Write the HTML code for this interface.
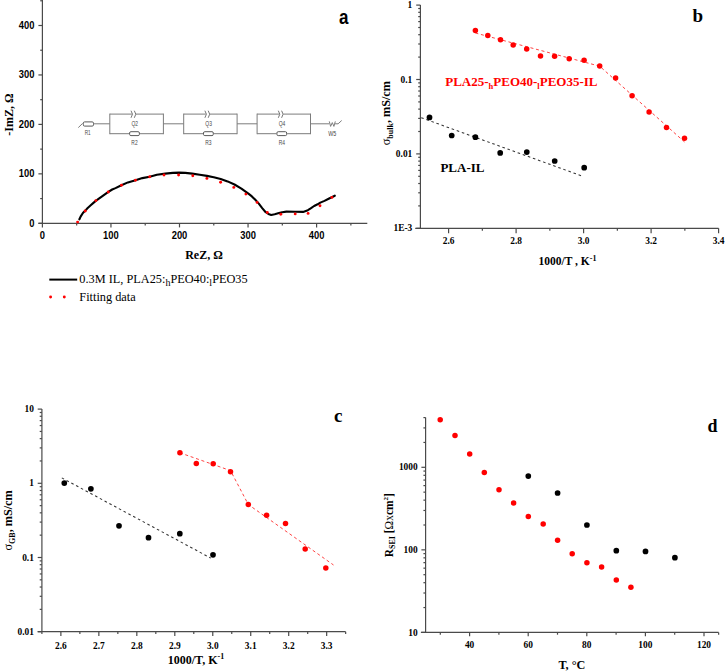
<!DOCTYPE html>
<html><head><meta charset="utf-8"><style>
html,body{margin:0;padding:0;background:#fff;}
body{width:725px;height:671px;overflow:hidden;font-family:"Liberation Serif", serif;}
svg{display:block;}
</style></head><body>
<svg width="725" height="671" viewBox="0 0 725 671" shape-rendering="geometricPrecision">
<rect x="0" y="0" width="725" height="671" fill="#fff"/>
<line x1="42.40" y1="-1.00" x2="42.40" y2="223.30" stroke="#4a4a4a" stroke-width="1.2" />
<line x1="38.40" y1="223.30" x2="367.30" y2="223.30" stroke="#4a4a4a" stroke-width="1.2" />
<line x1="38.40" y1="223.30" x2="42.40" y2="223.30" stroke="#4a4a4a" stroke-width="1.2" />
<line x1="40.20" y1="198.58" x2="42.40" y2="198.58" stroke="#4a4a4a" stroke-width="1.2" />
<line x1="38.40" y1="173.85" x2="42.40" y2="173.85" stroke="#4a4a4a" stroke-width="1.2" />
<line x1="40.20" y1="149.12" x2="42.40" y2="149.12" stroke="#4a4a4a" stroke-width="1.2" />
<line x1="38.40" y1="124.40" x2="42.40" y2="124.40" stroke="#4a4a4a" stroke-width="1.2" />
<line x1="40.20" y1="99.68" x2="42.40" y2="99.68" stroke="#4a4a4a" stroke-width="1.2" />
<line x1="38.40" y1="74.95" x2="42.40" y2="74.95" stroke="#4a4a4a" stroke-width="1.2" />
<line x1="40.20" y1="50.23" x2="42.40" y2="50.23" stroke="#4a4a4a" stroke-width="1.2" />
<line x1="38.40" y1="25.50" x2="42.40" y2="25.50" stroke="#4a4a4a" stroke-width="1.2" />
<line x1="40.20" y1="0.78" x2="42.40" y2="0.78" stroke="#4a4a4a" stroke-width="1.2" />
<line x1="42.40" y1="223.30" x2="42.40" y2="227.40" stroke="#4a4a4a" stroke-width="1.2" />
<line x1="76.67" y1="223.30" x2="76.67" y2="225.60" stroke="#4a4a4a" stroke-width="1.2" />
<line x1="110.95" y1="223.30" x2="110.95" y2="227.40" stroke="#4a4a4a" stroke-width="1.2" />
<line x1="145.22" y1="223.30" x2="145.22" y2="225.60" stroke="#4a4a4a" stroke-width="1.2" />
<line x1="179.50" y1="223.30" x2="179.50" y2="227.40" stroke="#4a4a4a" stroke-width="1.2" />
<line x1="213.78" y1="223.30" x2="213.78" y2="225.60" stroke="#4a4a4a" stroke-width="1.2" />
<line x1="248.05" y1="223.30" x2="248.05" y2="227.40" stroke="#4a4a4a" stroke-width="1.2" />
<line x1="282.32" y1="223.30" x2="282.32" y2="225.60" stroke="#4a4a4a" stroke-width="1.2" />
<line x1="316.60" y1="223.30" x2="316.60" y2="227.40" stroke="#4a4a4a" stroke-width="1.2" />
<line x1="350.88" y1="223.30" x2="350.88" y2="225.60" stroke="#4a4a4a" stroke-width="1.2" />
<text transform="translate(34.40,226.60) scale(1.0,1.12)" x="0" y="0" font-family='"Liberation Sans", sans-serif' font-size="9.4" font-weight="bold" text-anchor="end" fill="#000">0</text>
<text transform="translate(42.40,239.20) scale(1.0,1.12)" x="0" y="0" font-family='"Liberation Sans", sans-serif' font-size="9.4" font-weight="bold" text-anchor="middle" fill="#000">0</text>
<text transform="translate(34.40,177.15) scale(1.0,1.12)" x="0" y="0" font-family='"Liberation Sans", sans-serif' font-size="9.4" font-weight="bold" text-anchor="end" fill="#000">100</text>
<text transform="translate(110.95,239.20) scale(1.0,1.12)" x="0" y="0" font-family='"Liberation Sans", sans-serif' font-size="9.4" font-weight="bold" text-anchor="middle" fill="#000">100</text>
<text transform="translate(34.40,127.70) scale(1.0,1.12)" x="0" y="0" font-family='"Liberation Sans", sans-serif' font-size="9.4" font-weight="bold" text-anchor="end" fill="#000">200</text>
<text transform="translate(179.50,239.20) scale(1.0,1.12)" x="0" y="0" font-family='"Liberation Sans", sans-serif' font-size="9.4" font-weight="bold" text-anchor="middle" fill="#000">200</text>
<text transform="translate(34.40,78.25) scale(1.0,1.12)" x="0" y="0" font-family='"Liberation Sans", sans-serif' font-size="9.4" font-weight="bold" text-anchor="end" fill="#000">300</text>
<text transform="translate(248.05,239.20) scale(1.0,1.12)" x="0" y="0" font-family='"Liberation Sans", sans-serif' font-size="9.4" font-weight="bold" text-anchor="middle" fill="#000">300</text>
<text transform="translate(34.40,28.80) scale(1.0,1.12)" x="0" y="0" font-family='"Liberation Sans", sans-serif' font-size="9.4" font-weight="bold" text-anchor="end" fill="#000">400</text>
<text transform="translate(316.60,239.20) scale(1.0,1.12)" x="0" y="0" font-family='"Liberation Sans", sans-serif' font-size="9.4" font-weight="bold" text-anchor="middle" fill="#000">400</text>
<text x="204.00" y="259.20" font-family='"Liberation Serif", serif' font-size="12" font-weight="bold" text-anchor="middle" fill="#000" >ReZ, &#937;</text>
<text transform="translate(12.6,114.5) rotate(-90)" x="0" y="0" font-family='"Liberation Serif", serif' font-size="12" font-weight="bold" text-anchor="middle" fill="#000">-ImZ, &#937;</text>
<text transform="translate(338.90,24.20) scale(1.0,1.22)" x="0" y="0" font-family='"Liberation Sans", sans-serif' font-size="17" font-weight="bold" text-anchor="start" fill="#000">a</text>
<polyline points="79.40,219.30 80.60,216.60 82.90,213.00 85.30,210.60 87.70,208.00 90.70,205.30 93.70,202.60 96.10,200.60 99.60,198.10 103.80,195.10 108.00,192.20 112.20,189.50 115.50,188.10 121.40,185.20 127.90,182.40 135.50,180.20 142.40,178.10 149.70,176.70 156.90,174.70 165.30,173.60 172.90,172.90 179.10,172.60 185.30,172.90 192.20,173.60 199.80,174.70 206.90,175.90 213.80,177.20 220.70,179.00 227.60,181.40 234.50,184.50 241.40,188.60 248.40,193.60 251.90,196.40 255.30,199.80 258.80,203.60 262.20,208.10 265.70,212.20 268.40,214.00 271.20,215.00 274.70,214.30 278.10,213.30 282.20,212.20 286.40,211.60 295.00,211.70 303.10,211.90 307.90,210.20 310.70,208.40 314.10,206.00 317.60,204.30 320.30,202.60 324.50,200.90 328.60,198.80 334.80,195.70" fill="none" stroke="#000" stroke-width="2.1" stroke-linecap="round" stroke-linejoin="round"/>
<circle cx="77.60" cy="222.10" r="1.45" fill="#ff0000"/>
<circle cx="85.30" cy="211.00" r="1.45" fill="#ff0000"/>
<circle cx="95.90" cy="200.60" r="1.45" fill="#ff0000"/>
<circle cx="108.30" cy="192.00" r="1.45" fill="#ff0000"/>
<circle cx="121.50" cy="185.20" r="1.45" fill="#ff0000"/>
<circle cx="135.50" cy="180.20" r="1.45" fill="#ff0000"/>
<circle cx="149.70" cy="176.80" r="1.45" fill="#ff0000"/>
<circle cx="164.00" cy="175.00" r="1.45" fill="#ff0000"/>
<circle cx="178.60" cy="175.00" r="1.45" fill="#ff0000"/>
<circle cx="192.80" cy="175.70" r="1.45" fill="#ff0000"/>
<circle cx="206.90" cy="178.40" r="1.45" fill="#ff0000"/>
<circle cx="220.60" cy="182.30" r="1.45" fill="#ff0000"/>
<circle cx="233.80" cy="187.40" r="1.45" fill="#ff0000"/>
<circle cx="245.90" cy="194.10" r="1.45" fill="#ff0000"/>
<circle cx="257.10" cy="202.40" r="1.45" fill="#ff0000"/>
<circle cx="267.30" cy="212.50" r="1.45" fill="#ff0000"/>
<circle cx="280.80" cy="214.20" r="1.45" fill="#ff0000"/>
<circle cx="295.20" cy="213.90" r="1.45" fill="#ff0000"/>
<circle cx="308.10" cy="213.40" r="1.45" fill="#ff0000"/>
<circle cx="320.00" cy="205.80" r="1.45" fill="#ff0000"/>
<circle cx="331.90" cy="197.40" r="1.45" fill="#ff0000"/>
<line x1="78.30" y1="127.60" x2="82.60" y2="123.40" stroke="#7c7c7c" stroke-width="1.0" />
<rect x="83.3" y="121.9" width="10.2" height="4.2" rx="1.3" fill="none" stroke="#5a5a5a" stroke-width="1.0"/>
<text x="87.70" y="135.30" font-family='"Liberation Sans", sans-serif' font-size="6.8" fill="#484848" text-anchor="middle" textLength="5.9" lengthAdjust="spacingAndGlyphs">R1</text>
<line x1="93.50" y1="123.80" x2="109.80" y2="123.80" stroke="#7c7c7c" stroke-width="1.0" />
<line x1="109.80" y1="114.10" x2="131.90" y2="114.10" stroke="#7c7c7c" stroke-width="1.0" />
<line x1="136.00" y1="114.10" x2="163.40" y2="114.10" stroke="#7c7c7c" stroke-width="1.0" />
<path d="M131.00,110.7 Q134.00,114.10 131.00,117.8 M134.30,110.7 Q137.30,114.10 134.30,117.8" fill="none" stroke="#666" stroke-width="0.9"/>
<text x="134.70" y="125.90" font-family='"Liberation Sans", sans-serif' font-size="6.8" fill="#484848" text-anchor="middle" textLength="6.6" lengthAdjust="spacingAndGlyphs">Q2</text>
<line x1="109.80" y1="113.60" x2="109.80" y2="134.20" stroke="#7c7c7c" stroke-width="1.0" />
<line x1="163.40" y1="113.60" x2="163.40" y2="134.20" stroke="#7c7c7c" stroke-width="1.0" />
<line x1="109.80" y1="133.70" x2="129.10" y2="133.70" stroke="#7c7c7c" stroke-width="1.0" />
<line x1="139.90" y1="133.70" x2="163.40" y2="133.70" stroke="#7c7c7c" stroke-width="1.0" />
<rect x="129.60" y="131.7" width="9.8" height="3.9" rx="1.3" fill="none" stroke="#5a5a5a" stroke-width="1.0"/>
<text x="134.50" y="145.30" font-family='"Liberation Sans", sans-serif' font-size="6.8" fill="#484848" text-anchor="middle" textLength="6.3" lengthAdjust="spacingAndGlyphs">R2</text>
<line x1="163.40" y1="123.80" x2="183.70" y2="123.80" stroke="#7c7c7c" stroke-width="1.0" />
<line x1="183.70" y1="114.10" x2="205.80" y2="114.10" stroke="#7c7c7c" stroke-width="1.0" />
<line x1="209.90" y1="114.10" x2="237.10" y2="114.10" stroke="#7c7c7c" stroke-width="1.0" />
<path d="M204.90,110.7 Q207.90,114.10 204.90,117.8 M208.20,110.7 Q211.20,114.10 208.20,117.8" fill="none" stroke="#666" stroke-width="0.9"/>
<text x="208.60" y="125.90" font-family='"Liberation Sans", sans-serif' font-size="6.8" fill="#484848" text-anchor="middle" textLength="6.6" lengthAdjust="spacingAndGlyphs">Q3</text>
<line x1="183.70" y1="113.60" x2="183.70" y2="134.20" stroke="#7c7c7c" stroke-width="1.0" />
<line x1="237.10" y1="113.60" x2="237.10" y2="134.20" stroke="#7c7c7c" stroke-width="1.0" />
<line x1="183.70" y1="133.70" x2="203.00" y2="133.70" stroke="#7c7c7c" stroke-width="1.0" />
<line x1="213.80" y1="133.70" x2="237.10" y2="133.70" stroke="#7c7c7c" stroke-width="1.0" />
<rect x="203.50" y="131.7" width="9.8" height="3.9" rx="1.3" fill="none" stroke="#5a5a5a" stroke-width="1.0"/>
<text x="208.40" y="145.30" font-family='"Liberation Sans", sans-serif' font-size="6.8" fill="#484848" text-anchor="middle" textLength="6.3" lengthAdjust="spacingAndGlyphs">R3</text>
<line x1="237.10" y1="123.80" x2="257.10" y2="123.80" stroke="#7c7c7c" stroke-width="1.0" />
<line x1="257.10" y1="114.10" x2="279.20" y2="114.10" stroke="#7c7c7c" stroke-width="1.0" />
<line x1="283.30" y1="114.10" x2="310.50" y2="114.10" stroke="#7c7c7c" stroke-width="1.0" />
<path d="M278.30,110.7 Q281.30,114.10 278.30,117.8 M281.60,110.7 Q284.60,114.10 281.60,117.8" fill="none" stroke="#666" stroke-width="0.9"/>
<text x="282.00" y="125.90" font-family='"Liberation Sans", sans-serif' font-size="6.8" fill="#484848" text-anchor="middle" textLength="6.6" lengthAdjust="spacingAndGlyphs">Q4</text>
<line x1="257.10" y1="113.60" x2="257.10" y2="134.20" stroke="#7c7c7c" stroke-width="1.0" />
<line x1="310.50" y1="113.60" x2="310.50" y2="134.20" stroke="#7c7c7c" stroke-width="1.0" />
<line x1="257.10" y1="133.70" x2="276.40" y2="133.70" stroke="#7c7c7c" stroke-width="1.0" />
<line x1="287.20" y1="133.70" x2="310.50" y2="133.70" stroke="#7c7c7c" stroke-width="1.0" />
<rect x="276.90" y="131.7" width="9.8" height="3.9" rx="1.3" fill="none" stroke="#5a5a5a" stroke-width="1.0"/>
<text x="281.80" y="145.30" font-family='"Liberation Sans", sans-serif' font-size="6.8" fill="#484848" text-anchor="middle" textLength="6.3" lengthAdjust="spacingAndGlyphs">R4</text>
<line x1="310.50" y1="123.80" x2="329.30" y2="123.80" stroke="#7c7c7c" stroke-width="1.0" />
<path d="M329.3,121.4 L330.6,126.4 L332.3,122.6 L333.9,126.4 L335.3,121.4 M335.0,123.8 L338.1,123.8 L341.7,120.5" fill="none" stroke="#7c7c7c" stroke-width="1.0"/>
<text x="332.20" y="135.70" font-family='"Liberation Sans", sans-serif' font-size="6.8" fill="#484848" text-anchor="middle" textLength="8.0" lengthAdjust="spacingAndGlyphs">W5</text>
<line x1="49.30" y1="279.60" x2="77.20" y2="279.60" stroke="#000" stroke-width="2.0" />
<text x="79.30" y="283.30" font-family='"Liberation Serif", serif' font-size="12.3" font-weight="normal" text-anchor="start" fill="#000" >0.3M IL, PLA25:<tspan font-size="10" dy="3">h</tspan><tspan dy="-3">PEO40:</tspan><tspan font-size="10" dy="3">l</tspan><tspan dy="-3">PEO35</tspan></text>
<circle cx="50.60" cy="297.00" r="1.45" fill="#ff0000"/>
<circle cx="64.30" cy="297.00" r="1.45" fill="#ff0000"/>
<text x="79.30" y="301.00" font-family='"Liberation Serif", serif' font-size="12.3" font-weight="normal" text-anchor="start" fill="#000" >Fitting data</text>
<line x1="420.40" y1="5.10" x2="420.40" y2="228.30" stroke="#4a4a4a" stroke-width="1.2" />
<line x1="415.20" y1="228.30" x2="718.60" y2="228.30" stroke="#4a4a4a" stroke-width="1.2" />
<line x1="416.20" y1="228.30" x2="420.40" y2="228.30" stroke="#4a4a4a" stroke-width="1.2" />
<line x1="418.20" y1="205.90" x2="420.40" y2="205.90" stroke="#4a4a4a" stroke-width="1.2" />
<line x1="418.20" y1="192.80" x2="420.40" y2="192.80" stroke="#4a4a4a" stroke-width="1.2" />
<line x1="418.20" y1="183.51" x2="420.40" y2="183.51" stroke="#4a4a4a" stroke-width="1.2" />
<line x1="418.20" y1="176.30" x2="420.40" y2="176.30" stroke="#4a4a4a" stroke-width="1.2" />
<line x1="418.20" y1="170.41" x2="420.40" y2="170.41" stroke="#4a4a4a" stroke-width="1.2" />
<line x1="418.20" y1="165.42" x2="420.40" y2="165.42" stroke="#4a4a4a" stroke-width="1.2" />
<line x1="418.20" y1="161.11" x2="420.40" y2="161.11" stroke="#4a4a4a" stroke-width="1.2" />
<line x1="418.20" y1="157.30" x2="420.40" y2="157.30" stroke="#4a4a4a" stroke-width="1.2" />
<line x1="416.20" y1="153.90" x2="420.40" y2="153.90" stroke="#4a4a4a" stroke-width="1.2" />
<line x1="418.20" y1="131.50" x2="420.40" y2="131.50" stroke="#4a4a4a" stroke-width="1.2" />
<line x1="418.20" y1="118.40" x2="420.40" y2="118.40" stroke="#4a4a4a" stroke-width="1.2" />
<line x1="418.20" y1="109.11" x2="420.40" y2="109.11" stroke="#4a4a4a" stroke-width="1.2" />
<line x1="418.20" y1="101.90" x2="420.40" y2="101.90" stroke="#4a4a4a" stroke-width="1.2" />
<line x1="418.20" y1="96.01" x2="420.40" y2="96.01" stroke="#4a4a4a" stroke-width="1.2" />
<line x1="418.20" y1="91.02" x2="420.40" y2="91.02" stroke="#4a4a4a" stroke-width="1.2" />
<line x1="418.20" y1="86.71" x2="420.40" y2="86.71" stroke="#4a4a4a" stroke-width="1.2" />
<line x1="418.20" y1="82.90" x2="420.40" y2="82.90" stroke="#4a4a4a" stroke-width="1.2" />
<line x1="416.20" y1="79.50" x2="420.40" y2="79.50" stroke="#4a4a4a" stroke-width="1.2" />
<line x1="418.20" y1="57.10" x2="420.40" y2="57.10" stroke="#4a4a4a" stroke-width="1.2" />
<line x1="418.20" y1="44.00" x2="420.40" y2="44.00" stroke="#4a4a4a" stroke-width="1.2" />
<line x1="418.20" y1="34.71" x2="420.40" y2="34.71" stroke="#4a4a4a" stroke-width="1.2" />
<line x1="418.20" y1="27.50" x2="420.40" y2="27.50" stroke="#4a4a4a" stroke-width="1.2" />
<line x1="418.20" y1="21.61" x2="420.40" y2="21.61" stroke="#4a4a4a" stroke-width="1.2" />
<line x1="418.20" y1="16.62" x2="420.40" y2="16.62" stroke="#4a4a4a" stroke-width="1.2" />
<line x1="418.20" y1="12.31" x2="420.40" y2="12.31" stroke="#4a4a4a" stroke-width="1.2" />
<line x1="418.20" y1="8.50" x2="420.40" y2="8.50" stroke="#4a4a4a" stroke-width="1.2" />
<line x1="416.20" y1="5.10" x2="420.40" y2="5.10" stroke="#4a4a4a" stroke-width="1.2" />
<line x1="448.60" y1="228.30" x2="448.60" y2="233.30" stroke="#4a4a4a" stroke-width="1.2" />
<line x1="482.35" y1="228.30" x2="482.35" y2="230.80" stroke="#4a4a4a" stroke-width="1.2" />
<line x1="516.10" y1="228.30" x2="516.10" y2="233.30" stroke="#4a4a4a" stroke-width="1.2" />
<line x1="549.85" y1="228.30" x2="549.85" y2="230.80" stroke="#4a4a4a" stroke-width="1.2" />
<line x1="583.60" y1="228.30" x2="583.60" y2="233.30" stroke="#4a4a4a" stroke-width="1.2" />
<line x1="617.35" y1="228.30" x2="617.35" y2="230.80" stroke="#4a4a4a" stroke-width="1.2" />
<line x1="651.10" y1="228.30" x2="651.10" y2="233.30" stroke="#4a4a4a" stroke-width="1.2" />
<line x1="684.85" y1="228.30" x2="684.85" y2="230.80" stroke="#4a4a4a" stroke-width="1.2" />
<line x1="718.60" y1="228.30" x2="718.60" y2="233.30" stroke="#4a4a4a" stroke-width="1.2" />
<text transform="translate(448.60,244.00) scale(1.0,1.1)" x="0" y="0" font-family='"Liberation Serif", serif' font-size="9.4" font-weight="bold" text-anchor="middle" fill="#000">2.6</text>
<text transform="translate(516.10,244.00) scale(1.0,1.1)" x="0" y="0" font-family='"Liberation Serif", serif' font-size="9.4" font-weight="bold" text-anchor="middle" fill="#000">2.8</text>
<text transform="translate(583.60,244.00) scale(1.0,1.1)" x="0" y="0" font-family='"Liberation Serif", serif' font-size="9.4" font-weight="bold" text-anchor="middle" fill="#000">3.0</text>
<text transform="translate(651.10,244.00) scale(1.0,1.1)" x="0" y="0" font-family='"Liberation Serif", serif' font-size="9.4" font-weight="bold" text-anchor="middle" fill="#000">3.2</text>
<text transform="translate(718.60,244.00) scale(1.0,1.1)" x="0" y="0" font-family='"Liberation Serif", serif' font-size="9.4" font-weight="bold" text-anchor="middle" fill="#000">3.4</text>
<text transform="translate(412.30,8.20) scale(1.0,1.1)" x="0" y="0" font-family='"Liberation Serif", serif' font-size="9.4" font-weight="bold" text-anchor="end" fill="#000">1</text>
<text transform="translate(412.30,82.60) scale(1.0,1.1)" x="0" y="0" font-family='"Liberation Serif", serif' font-size="9.4" font-weight="bold" text-anchor="end" fill="#000">0.1</text>
<text transform="translate(412.30,157.00) scale(1.0,1.1)" x="0" y="0" font-family='"Liberation Serif", serif' font-size="9.4" font-weight="bold" text-anchor="end" fill="#000">0.01</text>
<text transform="translate(412.30,231.40) scale(1.0,1.1)" x="0" y="0" font-family='"Liberation Serif", serif' font-size="9.4" font-weight="bold" text-anchor="end" fill="#000">1E-3</text>
<text x="567.50" y="265.00" font-family='"Liberation Serif", serif' font-size="11.5" font-weight="bold" text-anchor="middle" fill="#000" >1000/T , K<tspan font-size="8" dy="-4.5">-1</tspan></text>
<text transform="translate(390.0,113.2) rotate(-90)" x="0" y="0" font-family='"Liberation Serif", serif' font-size="12.2" font-weight="bold" text-anchor="middle" fill="#000"><tspan font-weight="normal">&#963;</tspan><tspan font-size="8" dy="2.5">bulk</tspan><tspan dy="-2.5">, mS/cm</tspan></text>
<text x="692.50" y="22.40" font-family='"Liberation Serif", serif' font-size="19" font-weight="bold" text-anchor="start" fill="#000" >b</text>
<polyline points="475.4,33.0 599.7,66.2 684.6,142.0" fill="none" stroke="#ff3a3a" stroke-width="0.95" stroke-dasharray="3,2.7"/>
<polyline points="421.2,117.7 582.0,176.0" fill="none" stroke="#333" stroke-width="1.05" stroke-dasharray="2.6,2.8"/>
<circle cx="475.40" cy="30.50" r="2.75" fill="#ff0000"/>
<circle cx="487.80" cy="35.50" r="2.75" fill="#ff0000"/>
<circle cx="500.50" cy="39.80" r="2.75" fill="#ff0000"/>
<circle cx="513.20" cy="45.00" r="2.75" fill="#ff0000"/>
<circle cx="526.70" cy="49.00" r="2.75" fill="#ff0000"/>
<circle cx="540.50" cy="55.90" r="2.75" fill="#ff0000"/>
<circle cx="554.60" cy="56.20" r="2.75" fill="#ff0000"/>
<circle cx="569.20" cy="58.70" r="2.75" fill="#ff0000"/>
<circle cx="584.10" cy="60.20" r="2.75" fill="#ff0000"/>
<circle cx="599.70" cy="66.10" r="2.75" fill="#ff0000"/>
<circle cx="615.60" cy="77.90" r="2.75" fill="#ff0000"/>
<circle cx="632.10" cy="95.70" r="2.75" fill="#ff0000"/>
<circle cx="649.10" cy="111.90" r="2.75" fill="#ff0000"/>
<circle cx="666.50" cy="127.50" r="2.75" fill="#ff0000"/>
<circle cx="684.50" cy="138.20" r="2.75" fill="#ff0000"/>
<circle cx="429.50" cy="117.40" r="2.85" fill="#000"/>
<circle cx="451.70" cy="135.50" r="2.85" fill="#000"/>
<circle cx="475.40" cy="137.20" r="2.85" fill="#000"/>
<circle cx="500.20" cy="152.90" r="2.85" fill="#000"/>
<circle cx="526.80" cy="152.10" r="2.85" fill="#000"/>
<circle cx="554.70" cy="161.00" r="2.85" fill="#000"/>
<circle cx="584.20" cy="167.70" r="2.85" fill="#000"/>
<text x="445.20" y="85.60" font-family='"Liberation Serif", serif' font-size="13" font-weight="bold" text-anchor="start" fill="#ff0000" >PLA25-<tspan font-size="8.5" dy="3">h</tspan><tspan dy="-3">PEO40-</tspan><tspan font-size="8.5" dy="3">l</tspan><tspan dy="-3">PEO35-IL</tspan></text>
<text x="440.40" y="172.00" font-family='"Liberation Serif", serif' font-size="13" font-weight="bold" text-anchor="start" fill="#000" >PLA-IL</text>
<line x1="41.90" y1="409.10" x2="41.90" y2="631.70" stroke="#4a4a4a" stroke-width="1.2" />
<line x1="37.70" y1="631.70" x2="345.66" y2="631.70" stroke="#4a4a4a" stroke-width="1.2" />
<line x1="37.70" y1="631.70" x2="41.90" y2="631.70" stroke="#4a4a4a" stroke-width="1.2" />
<line x1="39.70" y1="609.36" x2="41.90" y2="609.36" stroke="#4a4a4a" stroke-width="1.2" />
<line x1="39.70" y1="596.30" x2="41.90" y2="596.30" stroke="#4a4a4a" stroke-width="1.2" />
<line x1="39.70" y1="587.03" x2="41.90" y2="587.03" stroke="#4a4a4a" stroke-width="1.2" />
<line x1="39.70" y1="579.84" x2="41.90" y2="579.84" stroke="#4a4a4a" stroke-width="1.2" />
<line x1="39.70" y1="573.96" x2="41.90" y2="573.96" stroke="#4a4a4a" stroke-width="1.2" />
<line x1="39.70" y1="568.99" x2="41.90" y2="568.99" stroke="#4a4a4a" stroke-width="1.2" />
<line x1="39.70" y1="564.69" x2="41.90" y2="564.69" stroke="#4a4a4a" stroke-width="1.2" />
<line x1="39.70" y1="560.90" x2="41.90" y2="560.90" stroke="#4a4a4a" stroke-width="1.2" />
<line x1="37.70" y1="557.50" x2="41.90" y2="557.50" stroke="#4a4a4a" stroke-width="1.2" />
<line x1="39.70" y1="535.16" x2="41.90" y2="535.16" stroke="#4a4a4a" stroke-width="1.2" />
<line x1="39.70" y1="522.10" x2="41.90" y2="522.10" stroke="#4a4a4a" stroke-width="1.2" />
<line x1="39.70" y1="512.83" x2="41.90" y2="512.83" stroke="#4a4a4a" stroke-width="1.2" />
<line x1="39.70" y1="505.64" x2="41.90" y2="505.64" stroke="#4a4a4a" stroke-width="1.2" />
<line x1="39.70" y1="499.76" x2="41.90" y2="499.76" stroke="#4a4a4a" stroke-width="1.2" />
<line x1="39.70" y1="494.79" x2="41.90" y2="494.79" stroke="#4a4a4a" stroke-width="1.2" />
<line x1="39.70" y1="490.49" x2="41.90" y2="490.49" stroke="#4a4a4a" stroke-width="1.2" />
<line x1="39.70" y1="486.70" x2="41.90" y2="486.70" stroke="#4a4a4a" stroke-width="1.2" />
<line x1="37.70" y1="483.30" x2="41.90" y2="483.30" stroke="#4a4a4a" stroke-width="1.2" />
<line x1="39.70" y1="460.96" x2="41.90" y2="460.96" stroke="#4a4a4a" stroke-width="1.2" />
<line x1="39.70" y1="447.90" x2="41.90" y2="447.90" stroke="#4a4a4a" stroke-width="1.2" />
<line x1="39.70" y1="438.63" x2="41.90" y2="438.63" stroke="#4a4a4a" stroke-width="1.2" />
<line x1="39.70" y1="431.44" x2="41.90" y2="431.44" stroke="#4a4a4a" stroke-width="1.2" />
<line x1="39.70" y1="425.56" x2="41.90" y2="425.56" stroke="#4a4a4a" stroke-width="1.2" />
<line x1="39.70" y1="420.59" x2="41.90" y2="420.59" stroke="#4a4a4a" stroke-width="1.2" />
<line x1="39.70" y1="416.29" x2="41.90" y2="416.29" stroke="#4a4a4a" stroke-width="1.2" />
<line x1="39.70" y1="412.50" x2="41.90" y2="412.50" stroke="#4a4a4a" stroke-width="1.2" />
<line x1="37.70" y1="409.10" x2="41.90" y2="409.10" stroke="#4a4a4a" stroke-width="1.2" />
<line x1="41.90" y1="631.70" x2="41.90" y2="633.90" stroke="#4a4a4a" stroke-width="1.2" />
<line x1="60.88" y1="631.70" x2="60.88" y2="635.90" stroke="#4a4a4a" stroke-width="1.2" />
<line x1="79.87" y1="631.70" x2="79.87" y2="633.90" stroke="#4a4a4a" stroke-width="1.2" />
<line x1="98.85" y1="631.70" x2="98.85" y2="635.90" stroke="#4a4a4a" stroke-width="1.2" />
<line x1="117.84" y1="631.70" x2="117.84" y2="633.90" stroke="#4a4a4a" stroke-width="1.2" />
<line x1="136.82" y1="631.70" x2="136.82" y2="635.90" stroke="#4a4a4a" stroke-width="1.2" />
<line x1="155.81" y1="631.70" x2="155.81" y2="633.90" stroke="#4a4a4a" stroke-width="1.2" />
<line x1="174.80" y1="631.70" x2="174.80" y2="635.90" stroke="#4a4a4a" stroke-width="1.2" />
<line x1="193.78" y1="631.70" x2="193.78" y2="633.90" stroke="#4a4a4a" stroke-width="1.2" />
<line x1="212.77" y1="631.70" x2="212.77" y2="635.90" stroke="#4a4a4a" stroke-width="1.2" />
<line x1="231.75" y1="631.70" x2="231.75" y2="633.90" stroke="#4a4a4a" stroke-width="1.2" />
<line x1="250.73" y1="631.70" x2="250.73" y2="635.90" stroke="#4a4a4a" stroke-width="1.2" />
<line x1="269.72" y1="631.70" x2="269.72" y2="633.90" stroke="#4a4a4a" stroke-width="1.2" />
<line x1="288.70" y1="631.70" x2="288.70" y2="635.90" stroke="#4a4a4a" stroke-width="1.2" />
<line x1="307.69" y1="631.70" x2="307.69" y2="633.90" stroke="#4a4a4a" stroke-width="1.2" />
<line x1="326.67" y1="631.70" x2="326.67" y2="635.90" stroke="#4a4a4a" stroke-width="1.2" />
<line x1="345.66" y1="631.70" x2="345.66" y2="633.90" stroke="#4a4a4a" stroke-width="1.2" />
<text transform="translate(60.89,649.20) scale(1.0,1.1)" x="0" y="0" font-family='"Liberation Serif", serif' font-size="9.4" font-weight="bold" text-anchor="middle" fill="#000">2.6</text>
<text transform="translate(98.86,649.20) scale(1.0,1.1)" x="0" y="0" font-family='"Liberation Serif", serif' font-size="9.4" font-weight="bold" text-anchor="middle" fill="#000">2.7</text>
<text transform="translate(136.82,649.20) scale(1.0,1.1)" x="0" y="0" font-family='"Liberation Serif", serif' font-size="9.4" font-weight="bold" text-anchor="middle" fill="#000">2.8</text>
<text transform="translate(174.80,649.20) scale(1.0,1.1)" x="0" y="0" font-family='"Liberation Serif", serif' font-size="9.4" font-weight="bold" text-anchor="middle" fill="#000">2.9</text>
<text transform="translate(212.77,649.20) scale(1.0,1.1)" x="0" y="0" font-family='"Liberation Serif", serif' font-size="9.4" font-weight="bold" text-anchor="middle" fill="#000">3.0</text>
<text transform="translate(250.74,649.20) scale(1.0,1.1)" x="0" y="0" font-family='"Liberation Serif", serif' font-size="9.4" font-weight="bold" text-anchor="middle" fill="#000">3.1</text>
<text transform="translate(288.71,649.20) scale(1.0,1.1)" x="0" y="0" font-family='"Liberation Serif", serif' font-size="9.4" font-weight="bold" text-anchor="middle" fill="#000">3.2</text>
<text transform="translate(326.67,649.20) scale(1.0,1.1)" x="0" y="0" font-family='"Liberation Serif", serif' font-size="9.4" font-weight="bold" text-anchor="middle" fill="#000">3.3</text>
<text transform="translate(33.90,412.20) scale(1.0,1.1)" x="0" y="0" font-family='"Liberation Serif", serif' font-size="9.4" font-weight="bold" text-anchor="end" fill="#000">10</text>
<text transform="translate(33.90,486.40) scale(1.0,1.1)" x="0" y="0" font-family='"Liberation Serif", serif' font-size="9.4" font-weight="bold" text-anchor="end" fill="#000">1</text>
<text transform="translate(33.90,560.60) scale(1.0,1.1)" x="0" y="0" font-family='"Liberation Serif", serif' font-size="9.4" font-weight="bold" text-anchor="end" fill="#000">0.1</text>
<text transform="translate(33.90,634.80) scale(1.0,1.1)" x="0" y="0" font-family='"Liberation Serif", serif' font-size="9.4" font-weight="bold" text-anchor="end" fill="#000">0.01</text>
<text x="196.00" y="663.60" font-family='"Liberation Serif", serif' font-size="12" font-weight="bold" text-anchor="middle" fill="#000" >1000/T, K<tspan font-size="8" dy="-4.5">-1</tspan></text>
<text transform="translate(12.0,520.4) rotate(-90)" x="0" y="0" font-family='"Liberation Serif", serif' font-size="12.2" font-weight="bold" text-anchor="middle" fill="#000"><tspan font-weight="normal">&#963;</tspan><tspan font-size="8" dy="2.5">GB</tspan><tspan dy="-2.5">, mS/cm</tspan></text>
<text x="334.00" y="422.30" font-family='"Liberation Serif", serif' font-size="19" font-weight="bold" text-anchor="start" fill="#000" >c</text>
<polyline points="179.9,452.8 230.5,470.6 248.3,504.5 333.5,565.0" fill="none" stroke="#ff3a3a" stroke-width="0.95" stroke-dasharray="3,2.7"/>
<polyline points="61.8,477.9 210.8,558.1" fill="none" stroke="#333" stroke-width="1.05" stroke-dasharray="2.6,2.8"/>
<circle cx="179.90" cy="452.80" r="2.75" fill="#ff0000"/>
<circle cx="196.30" cy="463.60" r="2.75" fill="#ff0000"/>
<circle cx="213.20" cy="463.80" r="2.75" fill="#ff0000"/>
<circle cx="230.50" cy="471.70" r="2.75" fill="#ff0000"/>
<circle cx="248.30" cy="504.60" r="2.75" fill="#ff0000"/>
<circle cx="266.60" cy="515.30" r="2.75" fill="#ff0000"/>
<circle cx="285.50" cy="523.60" r="2.75" fill="#ff0000"/>
<circle cx="305.20" cy="549.10" r="2.75" fill="#ff0000"/>
<circle cx="325.80" cy="567.90" r="2.75" fill="#ff0000"/>
<circle cx="64.30" cy="483.10" r="2.85" fill="#000"/>
<circle cx="90.90" cy="488.80" r="2.85" fill="#000"/>
<circle cx="119.00" cy="525.80" r="2.85" fill="#000"/>
<circle cx="148.50" cy="537.70" r="2.85" fill="#000"/>
<circle cx="179.80" cy="533.70" r="2.85" fill="#000"/>
<circle cx="213.00" cy="554.80" r="2.85" fill="#000"/>
<line x1="425.60" y1="417.60" x2="425.60" y2="632.40" stroke="#4a4a4a" stroke-width="1.2" />
<line x1="420.90" y1="632.40" x2="718.65" y2="632.40" stroke="#4a4a4a" stroke-width="1.2" />
<line x1="421.40" y1="632.40" x2="425.60" y2="632.40" stroke="#4a4a4a" stroke-width="1.2" />
<line x1="423.40" y1="607.55" x2="425.60" y2="607.55" stroke="#4a4a4a" stroke-width="1.2" />
<line x1="423.40" y1="593.01" x2="425.60" y2="593.01" stroke="#4a4a4a" stroke-width="1.2" />
<line x1="423.40" y1="582.70" x2="425.60" y2="582.70" stroke="#4a4a4a" stroke-width="1.2" />
<line x1="423.40" y1="574.70" x2="425.60" y2="574.70" stroke="#4a4a4a" stroke-width="1.2" />
<line x1="423.40" y1="568.16" x2="425.60" y2="568.16" stroke="#4a4a4a" stroke-width="1.2" />
<line x1="423.40" y1="562.64" x2="425.60" y2="562.64" stroke="#4a4a4a" stroke-width="1.2" />
<line x1="423.40" y1="557.85" x2="425.60" y2="557.85" stroke="#4a4a4a" stroke-width="1.2" />
<line x1="423.40" y1="553.63" x2="425.60" y2="553.63" stroke="#4a4a4a" stroke-width="1.2" />
<line x1="421.40" y1="549.85" x2="425.60" y2="549.85" stroke="#4a4a4a" stroke-width="1.2" />
<line x1="423.40" y1="525.00" x2="425.60" y2="525.00" stroke="#4a4a4a" stroke-width="1.2" />
<line x1="423.40" y1="510.46" x2="425.60" y2="510.46" stroke="#4a4a4a" stroke-width="1.2" />
<line x1="423.40" y1="500.15" x2="425.60" y2="500.15" stroke="#4a4a4a" stroke-width="1.2" />
<line x1="423.40" y1="492.15" x2="425.60" y2="492.15" stroke="#4a4a4a" stroke-width="1.2" />
<line x1="423.40" y1="485.61" x2="425.60" y2="485.61" stroke="#4a4a4a" stroke-width="1.2" />
<line x1="423.40" y1="480.09" x2="425.60" y2="480.09" stroke="#4a4a4a" stroke-width="1.2" />
<line x1="423.40" y1="475.30" x2="425.60" y2="475.30" stroke="#4a4a4a" stroke-width="1.2" />
<line x1="423.40" y1="471.08" x2="425.60" y2="471.08" stroke="#4a4a4a" stroke-width="1.2" />
<line x1="421.40" y1="467.30" x2="425.60" y2="467.30" stroke="#4a4a4a" stroke-width="1.2" />
<line x1="423.40" y1="442.45" x2="425.60" y2="442.45" stroke="#4a4a4a" stroke-width="1.2" />
<line x1="423.40" y1="427.91" x2="425.60" y2="427.91" stroke="#4a4a4a" stroke-width="1.2" />
<line x1="423.40" y1="417.60" x2="425.60" y2="417.60" stroke="#4a4a4a" stroke-width="1.2" />
<line x1="440.30" y1="632.40" x2="440.30" y2="634.70" stroke="#4a4a4a" stroke-width="1.2" />
<line x1="469.60" y1="632.40" x2="469.60" y2="636.20" stroke="#4a4a4a" stroke-width="1.2" />
<line x1="498.90" y1="632.40" x2="498.90" y2="634.70" stroke="#4a4a4a" stroke-width="1.2" />
<line x1="528.20" y1="632.40" x2="528.20" y2="636.20" stroke="#4a4a4a" stroke-width="1.2" />
<line x1="557.50" y1="632.40" x2="557.50" y2="634.70" stroke="#4a4a4a" stroke-width="1.2" />
<line x1="586.80" y1="632.40" x2="586.80" y2="636.20" stroke="#4a4a4a" stroke-width="1.2" />
<line x1="616.10" y1="632.40" x2="616.10" y2="634.70" stroke="#4a4a4a" stroke-width="1.2" />
<line x1="645.40" y1="632.40" x2="645.40" y2="636.20" stroke="#4a4a4a" stroke-width="1.2" />
<line x1="674.70" y1="632.40" x2="674.70" y2="634.70" stroke="#4a4a4a" stroke-width="1.2" />
<line x1="704.00" y1="632.40" x2="704.00" y2="636.20" stroke="#4a4a4a" stroke-width="1.2" />
<line x1="718.65" y1="632.40" x2="718.65" y2="634.70" stroke="#4a4a4a" stroke-width="1.2" />
<text transform="translate(469.60,647.80) scale(1.0,1.1)" x="0" y="0" font-family='"Liberation Serif", serif' font-size="9.4" font-weight="bold" text-anchor="middle" fill="#000">40</text>
<text transform="translate(528.20,647.80) scale(1.0,1.1)" x="0" y="0" font-family='"Liberation Serif", serif' font-size="9.4" font-weight="bold" text-anchor="middle" fill="#000">60</text>
<text transform="translate(586.80,647.80) scale(1.0,1.1)" x="0" y="0" font-family='"Liberation Serif", serif' font-size="9.4" font-weight="bold" text-anchor="middle" fill="#000">80</text>
<text transform="translate(645.40,647.80) scale(1.0,1.1)" x="0" y="0" font-family='"Liberation Serif", serif' font-size="9.4" font-weight="bold" text-anchor="middle" fill="#000">100</text>
<text transform="translate(704.00,647.80) scale(1.0,1.1)" x="0" y="0" font-family='"Liberation Serif", serif' font-size="9.4" font-weight="bold" text-anchor="middle" fill="#000">120</text>
<text transform="translate(417.70,470.40) scale(1.0,1.1)" x="0" y="0" font-family='"Liberation Serif", serif' font-size="9.4" font-weight="bold" text-anchor="end" fill="#000">1000</text>
<text transform="translate(417.70,552.95) scale(1.0,1.1)" x="0" y="0" font-family='"Liberation Serif", serif' font-size="9.4" font-weight="bold" text-anchor="end" fill="#000">100</text>
<text transform="translate(417.70,635.50) scale(1.0,1.1)" x="0" y="0" font-family='"Liberation Serif", serif' font-size="9.4" font-weight="bold" text-anchor="end" fill="#000">10</text>
<text x="571.90" y="669.00" font-family='"Liberation Serif", serif' font-size="12.2" font-weight="bold" text-anchor="middle" fill="#000" >T, &#176;C</text>
<text transform="translate(392.5,525.2) rotate(-90)" x="0" y="0" font-family='"Liberation Serif", serif' font-size="11.5" font-weight="bold" text-anchor="middle" fill="#000">R<tspan font-size="8" dy="2.5">SEI</tspan><tspan dy="-2.5"> [</tspan><tspan font-weight="normal">&#937;x</tspan>cm<tspan font-size="7" dy="-5">2</tspan><tspan dy="5">]</tspan></text>
<text x="707.60" y="432.00" font-family='"Liberation Serif", serif' font-size="18" font-weight="bold" text-anchor="start" fill="#000" >d</text>
<circle cx="440.20" cy="419.80" r="2.75" fill="#ff0000"/>
<circle cx="455.00" cy="435.50" r="2.75" fill="#ff0000"/>
<circle cx="469.70" cy="454.00" r="2.75" fill="#ff0000"/>
<circle cx="484.30" cy="472.50" r="2.75" fill="#ff0000"/>
<circle cx="499.00" cy="489.80" r="2.75" fill="#ff0000"/>
<circle cx="513.60" cy="503.00" r="2.75" fill="#ff0000"/>
<circle cx="528.30" cy="516.60" r="2.75" fill="#ff0000"/>
<circle cx="543.20" cy="524.10" r="2.75" fill="#ff0000"/>
<circle cx="557.60" cy="540.20" r="2.75" fill="#ff0000"/>
<circle cx="572.20" cy="553.80" r="2.75" fill="#ff0000"/>
<circle cx="586.90" cy="562.80" r="2.75" fill="#ff0000"/>
<circle cx="601.60" cy="566.90" r="2.75" fill="#ff0000"/>
<circle cx="616.30" cy="580.10" r="2.75" fill="#ff0000"/>
<circle cx="630.90" cy="587.20" r="2.75" fill="#ff0000"/>
<circle cx="528.30" cy="476.10" r="2.85" fill="#000"/>
<circle cx="557.60" cy="493.00" r="2.85" fill="#000"/>
<circle cx="586.90" cy="525.00" r="2.85" fill="#000"/>
<circle cx="616.30" cy="550.70" r="2.85" fill="#000"/>
<circle cx="645.50" cy="551.40" r="2.85" fill="#000"/>
<circle cx="674.90" cy="557.70" r="2.85" fill="#000"/>
</svg>
</body></html>
